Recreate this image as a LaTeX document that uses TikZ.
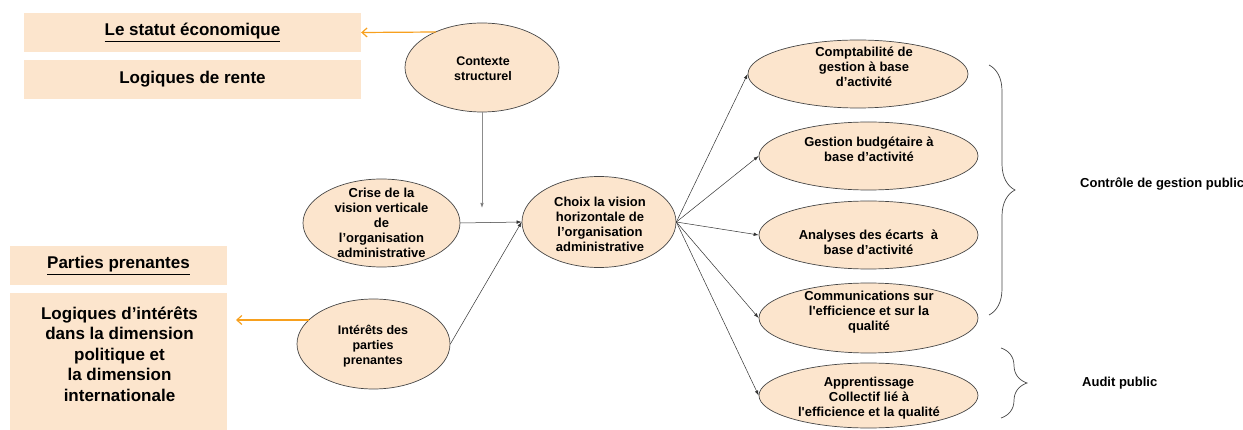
\documentclass[tikz,border=0pt]{standalone}
\usepackage{fontspec}
\setmainfont{Liberation Sans}
\usetikzlibrary{shapes.geometric,arrows.meta,decorations.pathreplacing}
\definecolor{peach}{RGB}{252,229,205}
\definecolor{orng}{RGB}{247,160,30}
\definecolor{edgec}{RGB}{70,70,70}
\begin{document}
\begin{tikzpicture}[x=1pt,y=-1pt,
 box/.style={fill=peach, inner sep=0pt, draw=none},
 ell/.style={ellipse, draw=edgec, line width=0.7pt, fill=peach, inner sep=0pt},
 etxt/.style={align=center, font=\bfseries\fontsize{13}{15}\selectfont, inner sep=0pt},
 stxt/.style={align=center, font=\bfseries\fontsize{12.5}{15}\selectfont, inner sep=0pt},
 btxt/.style={align=center, font=\bfseries\fontsize{17}{20}\selectfont, inner sep=0pt},
 ltxt/.style={align=center, font=\bfseries\fontsize{17}{20.5}\selectfont, inner sep=0pt},
 arr/.style={-{Latex[length=5pt,width=3.5pt]}, line width=0.5pt, draw=black!80},
 varr/.style={-{Latex[length=5pt,width=3.5pt,fill=black!80]}, line width=0.6pt, draw=black!45},
 oarr/.style={-{Straight Barb[length=5pt,width=9pt]}, line width=1.2pt, draw=orng},
 brc/.style={decorate, decoration={brace, amplitude=26pt}, draw=edgec, line width=0.7pt}]

\useasboundingbox (0,0) rectangle (1243,430);

% left boxes
\node[box, btxt, minimum width=337pt, minimum height=39pt] (b1) at (192.5,32.5) {\underline{Le statut économique}};
\node[box, btxt, minimum width=337pt, minimum height=39pt] (b2) at (192.5,79.5) {Logiques de rente};
\node[box, btxt, minimum width=217pt, minimum height=39pt] (b3) at (118.5,265.5) {\underline{Parties prenantes}};
\node[box, minimum width=217pt, minimum height=137pt] (b4) at (118.5,361.5) {};
\node[ltxt] (b4t) at (119.5,354) {Logiques d’intérêts\\dans la dimension\\politique et\\la dimension\\internationale};

% ellipses
\node[ell, minimum width=154pt, minimum height=89pt] (ctx) at (482,67.5) {};
\node[stxt] (ctxt) at (483,68.5) {Contexte\\structurel};
\node[ell, minimum width=157pt, minimum height=88pt] (crise) at (381.5,223) {};
\node[etxt] (criset) at (381.5,223) {Crise de la\\vision verticale\\de\\l’organisation\\administrative};
\node[ell, minimum width=154pt, minimum height=91pt] (choix) at (599,222) {};
\node[etxt] (choixt) at (600,224) {Choix la vision\\horizontale de\\l’organisation\\administrative};
\node[ell, minimum width=153pt, minimum height=90pt] (int) at (373.5,344) {};
\node[stxt] (intt) at (373,346.5) {Intérêts des\\parties\\prenantes};

\node[ell, minimum width=220pt, minimum height=68pt] (c1) at (858,74) {};
\node[etxt] (c1t) at (864,67) {Comptabilité de\\gestion à base\\d’activité};
\node[ell, minimum width=219pt, minimum height=68pt] (c2) at (868.5,156) {};
\node[etxt] (c2t) at (869,149.5) {Gestion budgétaire à\\base d’activité};
\node[ell, minimum width=219pt, minimum height=68pt] (c3) at (868.5,235) {};
\node[etxt] (c3t) at (868.5,242) {Analyses des écarts \ à\\base d’activité};
\node[ell, minimum width=219pt, minimum height=70pt] (c4) at (868.5,318) {};
\node[etxt] (c4t) at (869,312) {Communications sur\\l\textquotesingle efficience et sur la\\qualité};
\node[ell, minimum width=219pt, minimum height=65pt] (c5) at (868.5,395.5) {};
\node[etxt] (c5t) at (869,398) {Apprentissage\\Collectif lié à\\l\textquotesingle efficience et la qualité};

% right labels
\node[etxt, anchor=west] (cgp) at (1080,184) {Contrôle de gestion public};
\node[etxt, anchor=west] (ap) at (1082,383) {Audit public};

% connectors
\coordinate (vend) at (ctx.south |- 0,208);
\draw[varr] (ctx.south) -- (vend);
\draw[arr] (crise.east) -- (choix.west);
\draw[arr] (int.east) -- (choix.west);
\foreach \n in {c1,c2,c3,c4,c5} \draw[arr] (choix.east) -- (\n.west);

\coordinate (o1s) at (436,32);
\draw[oarr] (o1s) -- (b1.east);
\coordinate (o2s) at (309,320);
\coordinate (o2e) at (236,320);
\draw[oarr] (o2s) -- (o2e);

% braces
\draw[brc] (989,65) -- (989,315);
\draw[brc] (1001,348) -- (1001,418);
\end{tikzpicture}
\end{document}
